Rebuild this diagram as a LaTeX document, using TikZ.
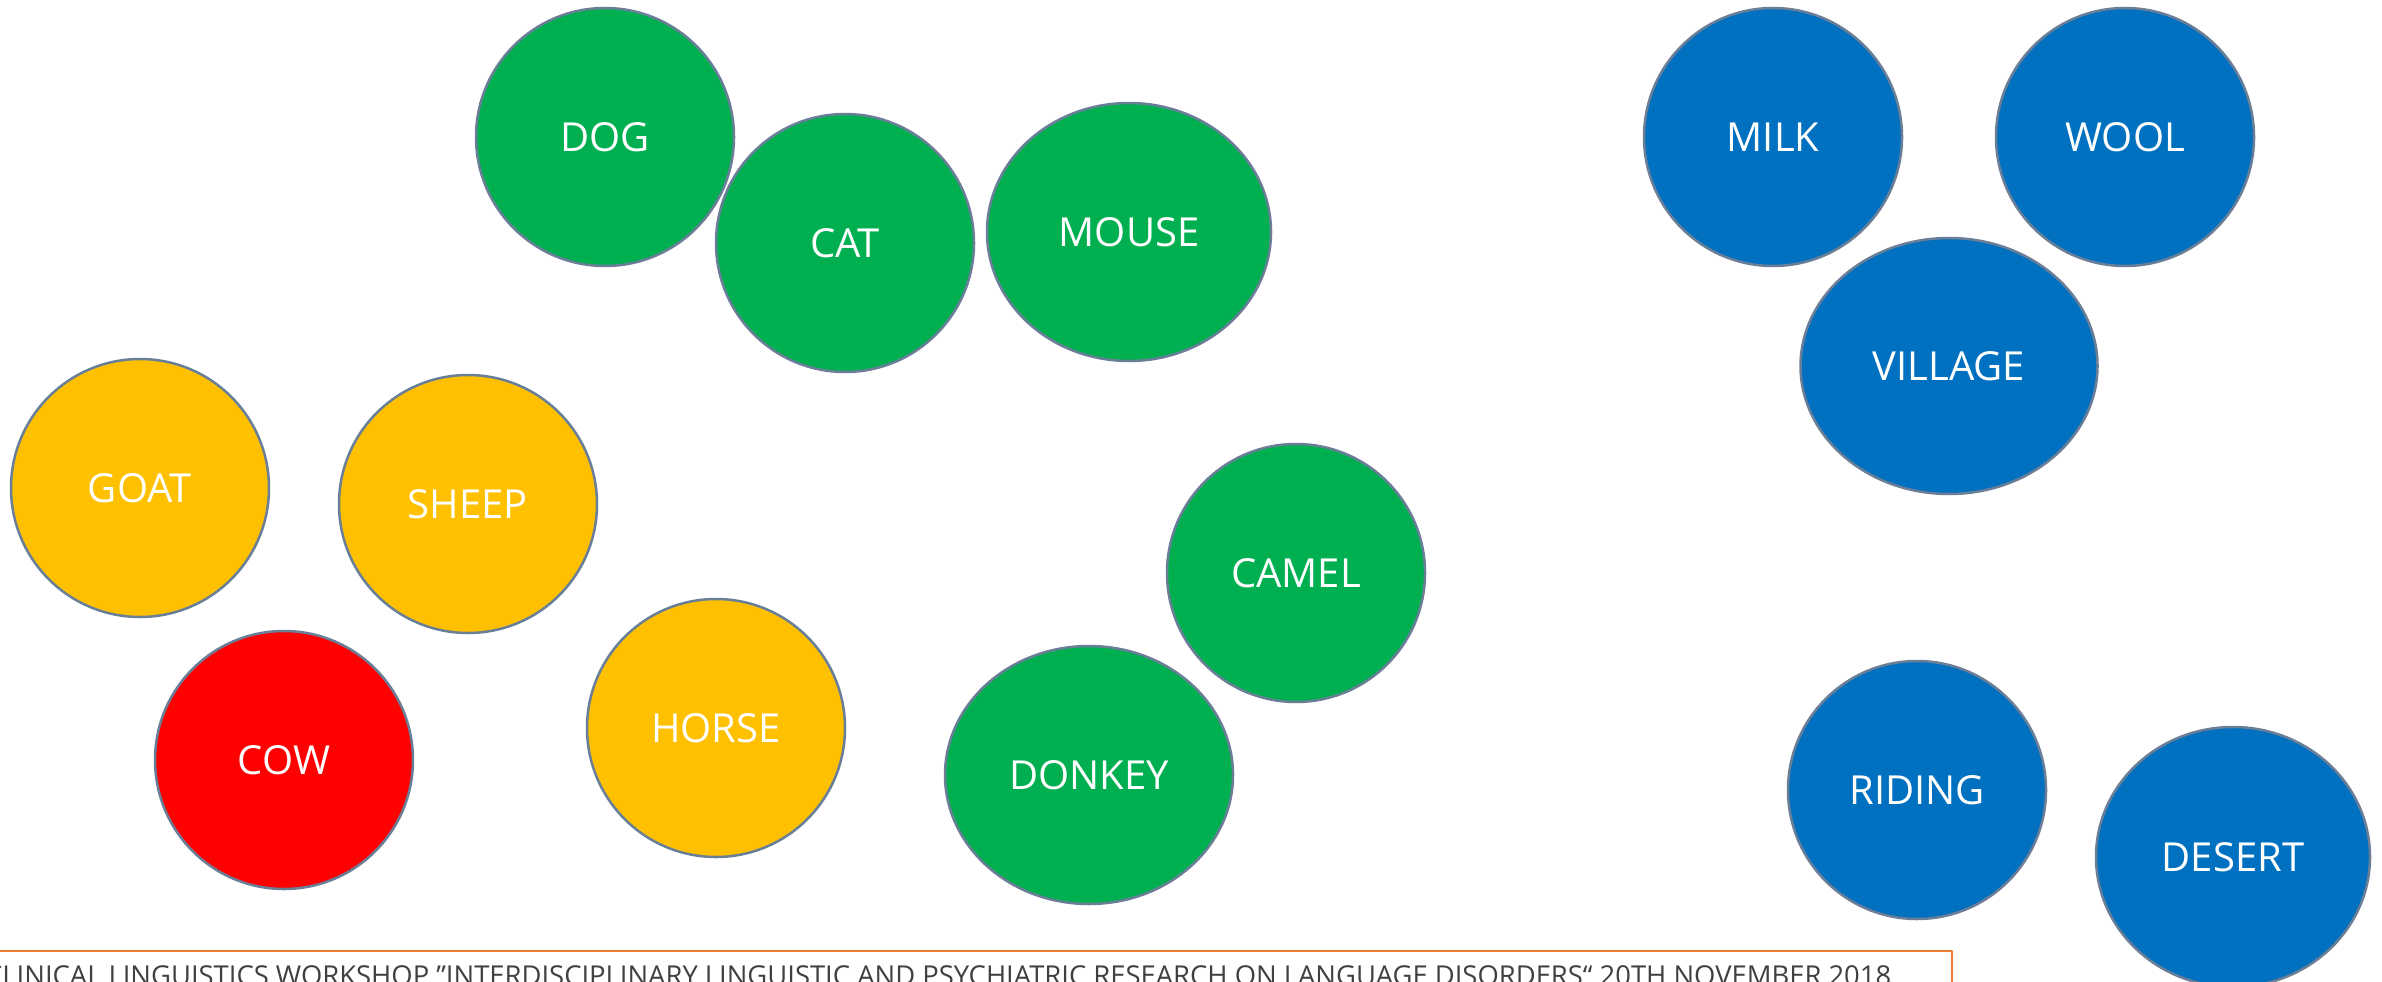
\documentclass[tikz,border=0pt]{standalone}
\usepackage{fontspec}
\setmainfont{Open Sans}
\usetikzlibrary{shapes.geometric}
\definecolor{wordgreen}{HTML}{00B050}
\definecolor{wordyellow}{HTML}{FFC000}
\definecolor{wordred}{HTML}{FF0000}
\definecolor{wordblue}{HTML}{0070C0}
\definecolor{rimgray}{HTML}{6A7F97}
\definecolor{footorange}{HTML}{ED7D31}
\tikzset{
  word/.style={circle, draw=rimgray, line width=2.5pt, minimum size=258pt,
    inner sep=0pt, text=white, font=\fontsize{40}{48}\selectfont},
  wordoval/.style={word, ellipse, minimum width=284pt, minimum height=258pt},
}
\begin{document}
\begin{tikzpicture}[x=1pt,y=1pt,line cap=round,line join=round]
\useasboundingbox (0,0) rectangle (2382,-982);
\clip (0,0) rectangle (2382,-982);
\node [word, fill=wordgreen] (dog) at (605,-137) {DOG};
\node [word, fill=wordgreen] (cat) at (845,-243) {CAT};
\node [wordoval, fill=wordgreen] (mouse) at (1129,-232) {MOUSE};
\node [word, fill=wordyellow] (goat) at (140,-488) {GOAT};
\node [word, fill=wordyellow] (sheep) at (468,-504) {SHEEP};
\node [word, fill=wordred] (cow) at (284,-760) {COW};
\node [word, fill=wordyellow] (horse) at (716,-728) {HORSE};
\node [word, fill=wordgreen] (camel) at (1296,-573) {CAMEL};
\node [wordoval, fill=wordgreen, minimum width=288pt] (donkey) at (1089,-775) {DONKEY};
\node [word, fill=wordblue] (milk) at (1773,-137) {MILK};
\node [word, fill=wordblue] (wool) at (2125,-137) {WOOL};
\node [wordoval, fill=wordblue, minimum width=297pt, minimum height=256pt] (village) at (1949,-366) {VILLAGE};
\node [word, fill=wordblue] (riding) at (1917,-790) {RIDING};
\node [wordoval, fill=wordblue, minimum width=274pt, minimum height=260pt] (desert) at (2233,-857) {DESERT};
\draw [footorange, line width=2pt] (-10,-1010) rectangle (1952,-951);
\node [anchor=base west, inner sep=0pt, text=black!75, font=\fontsize{27.4}{32}\selectfont] (workshop) at (-15,-985)
  {CLINICAL LINGUISTICS WORKSHOP \symbol{34}INTERDISCIPLINARY LINGUISTIC AND PSYCHIATRIC RESEARCH ON LANGUAGE DISORDERS“ 20TH NOVEMBER 2018};
\end{tikzpicture}
\end{document}
